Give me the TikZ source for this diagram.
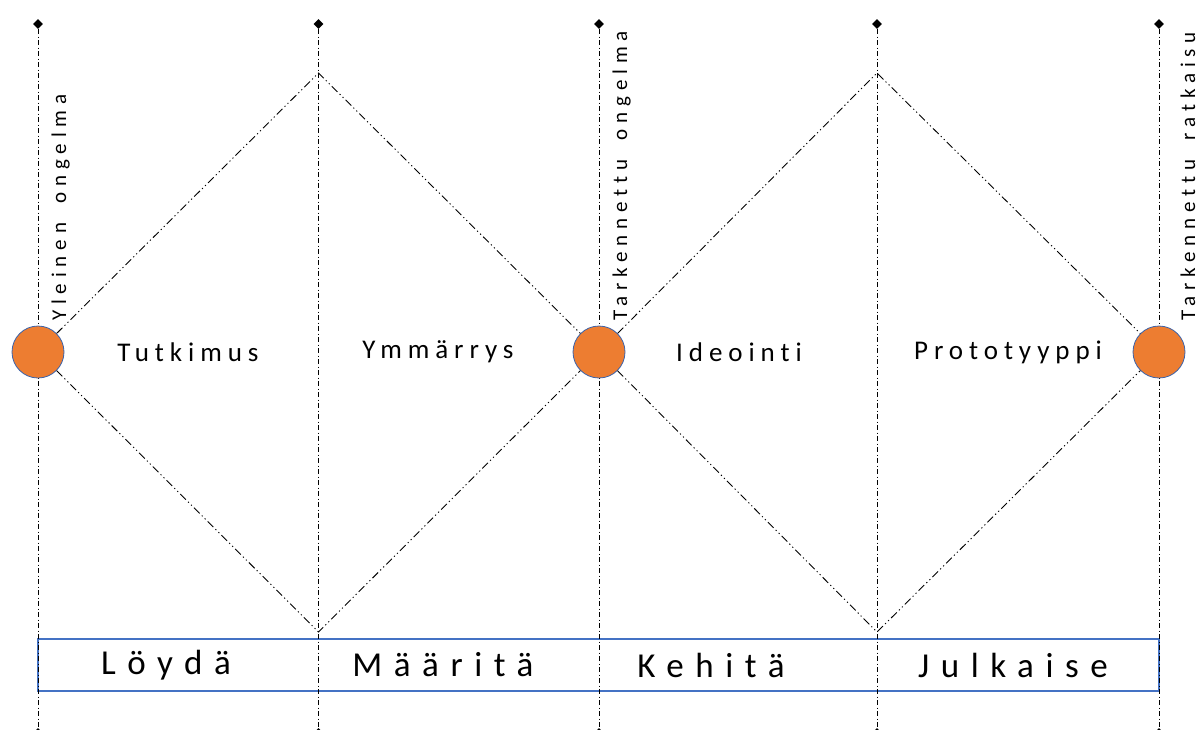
\documentclass[tikz,border=0pt]{standalone}
\usepackage{fontspec}
\setmainfont{Carlito}
\newfontfamily\midfont[LetterSpace=22,Ligatures={NoCommon,NoContextual},WordSpace=1.6]{Carlito}
\newfontfamily\botfont[LetterSpace=33,Ligatures={NoCommon,NoContextual}]{Carlito}
\newfontfamily\rotfont[LetterSpace=28,Ligatures={NoCommon,NoContextual},WordSpace=1.8]{Carlito}
\usetikzlibrary{shapes.geometric}
\definecolor{orangeA}{HTML}{ED7D31}
\definecolor{blueA}{HTML}{4472C4}
\definecolor{blueB}{HTML}{3A62AA}
\begin{document}
\begin{tikzpicture}[x=1pt,y=-1pt,
  vline/.style={line width=0.9pt, dash pattern=on 5pt off 2.5pt on 1pt off 2.5pt},
  dline/.style={line width=0.9pt, dash pattern=on 8pt off 3pt on 1.2pt off 3pt on 1.2pt off 3pt},
  tipmark/.style={diamond, fill=black, inner sep=0pt, minimum size=10pt},
  dotnode/.style={circle, fill=orangeA, draw=blueB, line width=0.8pt, minimum size=52pt, inner sep=0pt},
  midlabel/.style={font={\midfont\fontsize{27}{32}\selectfont}, inner sep=0pt},
  botlabel/.style={font={\botfont\fontsize{35}{40}\selectfont}, inner sep=0pt},
  rotlabel/.style={font={\rotfont\fontsize{21}{24}\selectfont}, rotate=90, anchor=base west, inner sep=0pt},
  stagebox/.style={draw=blueA, line width=1.2pt, minimum width=1121pt, minimum height=52pt, inner sep=0pt}
]
\useasboundingbox (0,0) rectangle (1196,729);

% stage box
\node[stagebox] (box) at (598.5,665) {};

% vertical dotted lines
\foreach \n/\x in {1/38,2/318.5,3/599,4/877,5/1159}{
  \node[tipmark] (t\n) at (\x,24) {};
  \node[tipmark] (b\n) at (\x,733) {};
  \draw[vline] (t\n) -- (b\n);
}

% diamond vertices
\coordinate (top1) at (318.5,73);
\coordinate (bot1) at (318.5,632);
\coordinate (top2) at (877,73);
\coordinate (bot2) at (877,632);

% circles
\node[dotnode] (c1) at (38,352) {};
\node[dotnode] (c2) at (599,352) {};
\node[dotnode] (c3) at (1159,352) {};

% diamonds
\draw[dline] (c1) -- (top1) -- (c2);
\draw[dline] (c1) -- (bot1) -- (c2);
\draw[dline] (c2) -- (top2) -- (c3);
\draw[dline] (c2) -- (bot2) -- (c3);

% rotated labels
\node[rotlabel] (r1) at (66,321) {Yleinen ongelma};
\node[rotlabel] (r2) at (627,321) {Tarkennettu ongelma};
\node[rotlabel] (r3) at (1195,321) {Tarkennettu ratkaisu};

% middle labels
\node[midlabel] (m1) at (188,352) {Tutkimus};
\node[midlabel] (m2) at (438,352) {Ymmärrys};
\node[midlabel] (m3) at (739,352) {Ideointi};
\node[midlabel] (m4) at (1008,352) {Prototyyppi};

% bottom labels
\node[botlabel] (l1) at (166,665) {Löydä};
\node[botlabel] (l2) at (443,665) {Määritä};
\node[botlabel] (l3) at (711,665) {Kehitä};
\node[botlabel] (l4) at (1013,665) {Julkaise};
\end{tikzpicture}
\end{document}
